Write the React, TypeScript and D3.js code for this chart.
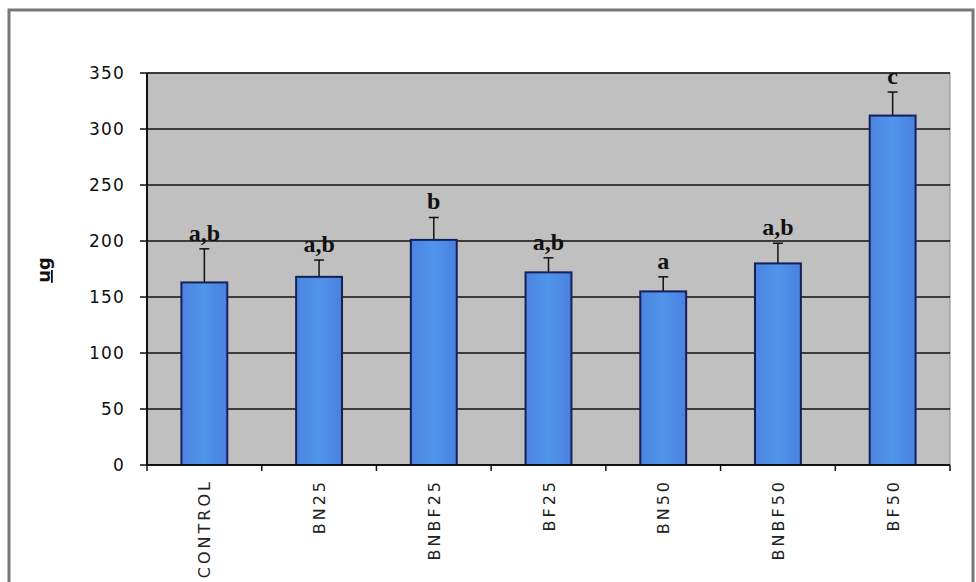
import React from "react";
import * as d3 from "d3";

const categories = ["CONTROL", "BN25", "BNBF25", "BF25", "BN50", "BNBF50", "BF50"];
const means = [163, 168, 201, 172, 155, 180, 312];
const errors = [30, 15, 20, 13, 13, 18, 21];
const letters = ["a,b", "a,b", "b", "a,b", "a", "a,b", "c"];
const yTicks = [0, 50, 100, 150, 200, 250, 300, 350];
const yLabel = "ug";

const W = 976;
const H = 582;
const plot = { left: 147, right: 950, top: 73, bottom: 465 };

export default function App() {
  const x = d3.scaleBand<string>().domain(categories).range([plot.left, plot.right]).paddingInner(0.6).paddingOuter(0.3);
  const band = d3.scaleBand<string>().domain(categories).range([plot.left, plot.right]);
  const y = d3.scaleLinear().domain([0, 350]).range([plot.bottom, plot.top]);
  const font = "Tahoma, 'DejaVu Sans', Verdana, sans-serif";
  return (
    <svg width={W} height={H} style={{ position: "absolute", left: 0, top: 0, background: "#fff" }}>
      <defs>
        <linearGradient id="barg" x1="0" x2="1" y1="0" y2="0">
          <stop offset="0" stopColor="#4d84e0" />
          <stop offset="0.5" stopColor="#4f95ea" />
          <stop offset="1" stopColor="#4a80e0" />
        </linearGradient>
      </defs>
      <rect x={9} y={10} width={964} height={620} fill="#fff" stroke="#777" strokeWidth={3} />
      <rect x={plot.left} y={plot.top} width={plot.right - plot.left} height={plot.bottom - plot.top} fill="#c0c0c0" stroke="#888" strokeWidth={1} />
      {yTicks.map((t) => (
        <g key={t}>
          {t > 0 && <line x1={plot.left} x2={plot.right} y1={y(t)} y2={y(t)} stroke="#111" strokeWidth={1.6} />}
          <line x1={plot.left - 7} x2={plot.left} y1={y(t)} y2={y(t)} stroke="#111" strokeWidth={1.5} />
          <text x={plot.left - 22} y={y(t)} dy="0.36em" textAnchor="end" fontFamily={font} fontSize={17} letterSpacing={1.2} fill="#111">
            {t}
          </text>
        </g>
      ))}
      {categories.map((c, i) => {
        const bx = x(c)!;
        const bw = x.bandwidth();
        const cx = bx + bw / 2;
        const top = y(means[i]);
        const etop = y(means[i] + errors[i]);
        return (
          <g key={c}>
            <line x1={cx} x2={cx} y1={top} y2={etop} stroke="#111" strokeWidth={1.5} />
            <line x1={cx - 5} x2={cx + 5} y1={etop} y2={etop} stroke="#111" strokeWidth={1.5} />
            <rect x={bx} y={top} width={bw} height={plot.bottom - top} fill="url(#barg)" stroke="#14205a" strokeWidth={2} />
            <text x={cx} y={etop - 8} textAnchor="middle" fontFamily="'Liberation Serif', 'DejaVu Serif', serif" fontWeight="bold" fontSize={24} fill="#111">
              {letters[i]}
            </text>
            <text
              transform={`translate(${cx + 6},${plot.bottom + 14}) rotate(-90)`}
              textAnchor="end"
              fontFamily={font}
              fontSize={16}
              letterSpacing={3}
              fill="#222"
            >
              {c}
            </text>
          </g>
        );
      })}
      <line x1={plot.left} x2={plot.left} y1={plot.top} y2={plot.bottom} stroke="#111" strokeWidth={2} />
      <line x1={plot.left} x2={plot.right} y1={plot.bottom} y2={plot.bottom} stroke="#111" strokeWidth={2} />
      {[...categories.map((c) => band(c)!), plot.right].map((v, i) => (
        <line key={i} x1={v} x2={v} y1={plot.bottom} y2={plot.bottom + 6} stroke="#111" strokeWidth={1.5} />
      ))}
      <text transform={`translate(50,270) rotate(-90)`} textAnchor="middle" fontFamily={font} fontWeight="bold" fontSize={18} textDecoration="underline" fill="#111">
        {yLabel}
      </text>
    </svg>
  );
}
